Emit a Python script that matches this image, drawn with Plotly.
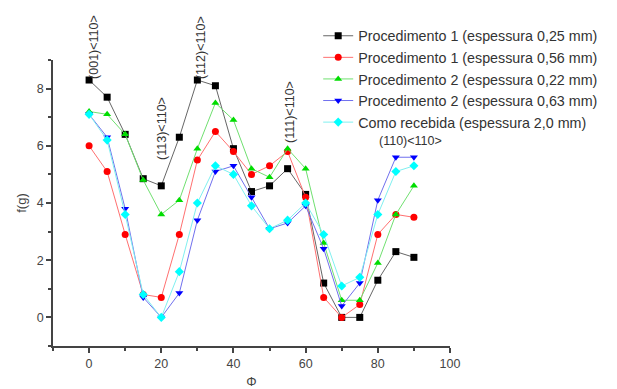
import plotly.graph_objects as go

phi = [0, 5, 10, 15, 20, 25, 30, 35, 40, 45, 50, 55, 60, 65, 70, 75, 80, 85, 90]

p1_025 = [8.3, 7.7, 6.4, 4.85, 4.6, 6.3, 8.3, 8.1, 5.9, 4.4, 4.6, 5.2, 4.3, 1.2, 0.0, 0.0, 1.3, 2.3, 2.1]
p1_056 = [6.0, 5.1, 2.9, 0.8, 0.7, 2.9, 5.5, 6.5, 5.8, 5.0, 5.3, 5.8, 4.2, 0.7, 0.0, 0.45, 2.9, 3.6, 3.5]
p2_022 = [7.2, 7.1, 6.4, 4.8, 3.6, 4.1, 5.9, 7.5, 6.9, 5.2, 4.9, 5.9, 5.2, 2.6, 0.6, 0.6, 1.9, 3.6, 4.6]
p2_063 = [7.1, 6.3, 3.8, 0.7, 0.0, 0.85, 3.4, 5.1, 5.3, 4.2, 3.1, 3.3, 3.9, 2.4, 0.4, 1.2, 4.1, 5.6, 5.6]
recebida = [7.1, 6.2, 3.6, 0.8, 0.0, 1.6, 4.0, 5.3, 5.0, 3.9, 3.1, 3.4, 4.0, 2.9, 1.1, 1.4, 3.6, 5.1, 5.3]

names = [
    "Procedimento 1 (espessura 0,25 mm)",
    "Procedimento 1 (espessura 0,56 mm)",
    "Procedimento 2 (espessura 0,22 mm)",
    "Procedimento 2 (espessura 0,63 mm)",
    "Como recebida (espessura 2,0 mm)",
]
series = [p1_025, p1_056, p2_022, p2_063, recebida]
colors = ["#000000", "#ff0000", "#00dd00", "#0000ff", "#00ffff"]
line_colors = ["#666666", "#ff7070", "#70e070", "#7070ee", "#80f0f0"]
symbols = ["square", "circle", "triangle-up", "triangle-down", "diamond"]

ann_text = ["(001)<110>", "(113)<110>", "(112)<110>", "(111)<110>", "(110)<110>"]
ann_x = [1.3, 20.0, 31.0, 55.8, 89.0]
ann_y = [9.45, 6.6, 9.45, 7.2, 6.18]
ann_angle = [-90, -90, -90, -90, 0]

X_RANGE = [-10, 100]
Y_RANGE = [-1, 9]

fig = go.Figure()
for name, ys, c, lc, s in zip(names, series, colors, line_colors, symbols):
    fig.add_trace(go.Scatter(
        x=phi, y=ys, name=name, mode="lines+markers",
        line=dict(color=lc, width=1),
        marker=dict(symbol=s, size=7, color=c, line=dict(width=0)),
        cliponaxis=False,
    ))

for t, x, y, a in zip(ann_text, ann_x, ann_y, ann_angle):
    yp = (y - Y_RANGE[0]) / (Y_RANGE[1] - Y_RANGE[0])
    fig.add_annotation(x=x, y=yp, xref="x", yref="paper", text=t, showarrow=False,
                       xanchor="center", yanchor="middle",
                       textangle=a, font=dict(size=12.5, color="#333333"))

axis_common = dict(
    showgrid=False, zeroline=False, showline=True, linecolor="#444444", linewidth=1.5,
    ticks="outside", ticklen=5, tickwidth=1.5, tickcolor="#444444",
    tickfont=dict(size=12.5, color="#444444"), automargin=False,
    minor=dict(ticks="outside", ticklen=3, tickwidth=1.5, tickcolor="#444444"),
)

fig.update_xaxes(range=X_RANGE, tick0=0, dtick=20, minor_dtick=10,
                 title=dict(text="Φ", font=dict(size=13, color="#444444"), standoff=15),
                 **axis_common)
fig.update_yaxes(range=Y_RANGE, tick0=0, dtick=2, minor_dtick=1,
                 title=dict(text="f(g)", font=dict(size=13, color="#444444"), standoff=7),
                 **axis_common)

# page body has an 8px margin: figure drawn at (8, 8)
fig.update_layout(
    width=609, height=381,
    margin=dict(l=45, r=167, t=45, b=43),
    paper_bgcolor="white", plot_bgcolor="white",
    font=dict(family="Liberation Sans, Arial, sans-serif", color="#333333"),
    legend=dict(x=0.668, y=1.14, xanchor="left", yanchor="top",
                bgcolor="rgba(0,0,0,0)", font=dict(size=14.3, color="#333333"),
                itemwidth=30, tracegroupgap=0),
)

fig.write_html("out.html")
